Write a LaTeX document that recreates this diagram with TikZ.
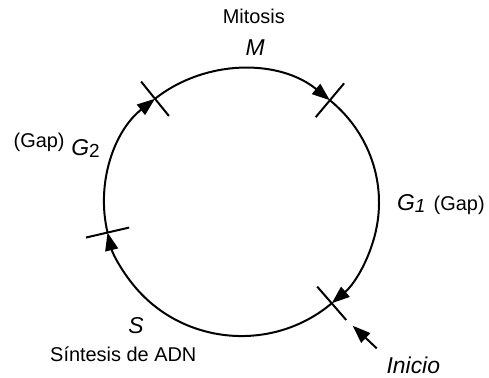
\documentclass[tikz,border=0pt]{standalone}
\usepackage{fontspec}
\setmainfont{Liberation Sans}
\usetikzlibrary{arrows.meta}
\newcommand{\phasesub}[1]{\raisebox{-1.3pt}{\fontsize{9.5}{10}\selectfont #1}}

\begin{document}
\begin{tikzpicture}[
  flow/.style={line width=1pt, -{Triangle[length=9pt,width=6.5pt]}},
  tick/.style={line width=1pt},
  phase/.style={font=\fontsize{11.5}{13}\selectfont\itshape, inner sep=0pt},
  note/.style={font=\fontsize{10}{12}\selectfont, inner sep=0pt}]

\useasboundingbox (-4.26,-3.095) rectangle (4.365,3.572);

% limits between the phases
\foreach \ang/\name in {129/g2m, 50/mg1, -49/g1s, 193/sg2}{
  \coordinate (\name) at (\ang:2.425cm and 2.355cm);
  \draw[tick] (\ang:2.035cm and 1.965cm) -- (\ang:2.815cm and 2.745cm);
}

\draw[flow] (g2m) arc[start angle=129, end angle=50, x radius=2.425cm, y radius=2.355cm];
\draw[flow] (mg1) arc[start angle=50, end angle=-49, x radius=2.425cm, y radius=2.355cm];
\draw[flow] (g1s) arc[start angle=-49, end angle=-167, x radius=2.425cm, y radius=2.355cm];
\draw[flow] (sg2) arc[start angle=193, end angle=129, x radius=2.425cm, y radius=2.355cm];

\node[note, anchor=base]  (mitosis) at (0.217,3.161) {Mitosis};
\node[phase, anchor=base] (m) at (0.24,2.602) {M};
\node[phase, anchor=base west] (g1) at (2.737,-0.132) {G\phasesub{\itshape 1}};
\node[note, anchor=base west]  (gap1) at (3.383,-0.132) {(Gap)};
\node[phase, anchor=base east] (g2) at (-2.496,0.838) {G\phasesub{\upshape 2}};
\node[note, anchor=base east]  (gap2) at (-3.113,0.974) {(Gap)};
\node[phase, anchor=base] (s) at (-1.861,-2.307) {S};
\node[note, anchor=base]  (adn) at (-2.085,-2.796) {Síntesis de ADN};

% entry point of the cycle
\coordinate (entry) at (1.961,-2.173);
\coordinate (entrytail) at (2.385,-2.572);
\draw[flow] (entrytail) -- (entry);
\node[phase, anchor=base] (inicio) at (3.03,-3.013) {Inicio};
\end{tikzpicture}
\end{document}
